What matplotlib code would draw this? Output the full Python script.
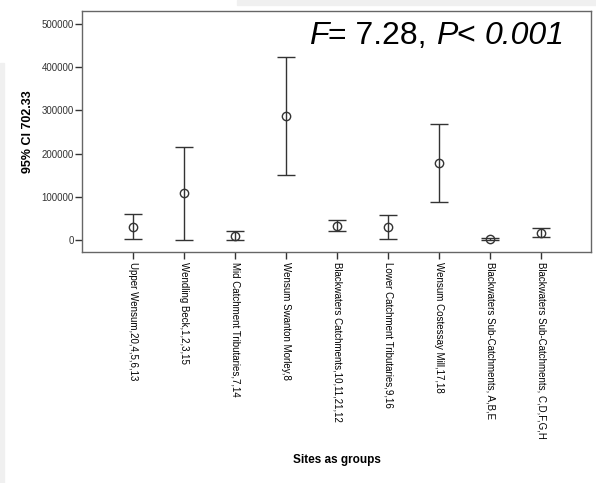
import matplotlib.pyplot as plt
from matplotlib.patches import Rectangle
from matplotlib.offsetbox import TextArea, HPacker, AnchoredOffsetbox

# Group names and 95% CI summary.
groups = ['Upper Wensum,20,4,5,6,13', 'Wendling Beck,1,2,3,15',
          'Mid Catchment Tributaries,7,14', 'Wensum Swanton Morley,8',
          'Blackwaters Catchments,10,11,21,12', 'Lower Catchment Tributaries,9,16',
          'Wensum Costessay Mill,17,18', 'Blackwaters Sub-Catchments, A,B,E',
          'Blackwaters Sub-Catchments, C,D,F,G,H']
means = [30700, 107800, 10000, 286400, 33000, 30700, 177800, 2300, 16900]
upper = [59300, 215500, 20000, 422600, 46900, 57700, 267900, 4600, 27000]
lower = [2300, 0, 700, 149400, 20000, 3100, 87000, 0, 7700]
yticks = [0, 100000, 200000, 300000, 400000, 500000]

plt.rcParams['font.family'] = ['Liberation Sans', 'DejaVu Sans']

W, H = 596, 483
fig = plt.figure(figsize=(W / 100, H / 100), dpi=100)

# screenshot background strips
fig.patches.append(Rectangle((237 / W, 1 - 4.5 / H), 1, 4.5 / H,
                             transform=fig.transFigure, color='#f0f0f0', zorder=0))
fig.patches.append(Rectangle((0, 0), 3.5 / W, 1 - 63 / H,
                             transform=fig.transFigure, color='#f0f0f0', zorder=0))

ax = fig.add_axes([82 / W, 1 - 252 / H, (591 - 82) / W, (252 - 11) / H])

x = list(range(len(groups)))
err = [[m - l for m, l in zip(means, lower)], [u - m for m, u in zip(means, upper)]]
ax.errorbar(x, means, yerr=err, fmt='o', mfc='none', mec='#333333', ms=6,
            mew=1, ecolor='#333333', elinewidth=1, capsize=6.5, capthick=1)

ax.set_xlim(-1, 8.98)
ax.set_ylim(-27800, 530000)
ax.set_yticks(yticks)
ax.set_yticklabels([str(v) for v in yticks], fontsize=7, color='#333333')
ax.set_xticks(x)
ax.set_xticklabels(groups, rotation=270, fontsize=7, ha='center', va='top')
ax.tick_params(axis='both', direction='out', length=5, width=1, color='#333333')
ax.tick_params(axis='x', pad=2)
ax.tick_params(axis='y', pad=1)
for s in ax.spines.values():
    s.set_color('#666666')
    s.set_linewidth(1)

fig.text(28 / W, 1 - 132 / H, '95% CI 702.33', rotation=90, fontsize=9,
         fontweight='bold', ha='center', va='center')
fig.text(337 / W, 1 - 460 / H, 'Sites as groups', fontsize=8.5,
         fontweight='bold', ha='center', va='center')

# F / P statistic, with the italic parts as separate pieces
pieces = [('F', 'italic'), ('= 7.28, ', 'normal'), ('P', 'italic'),
          ('< ', 'normal'), ('0.001', 'italic')]
areas = [TextArea(t, textprops=dict(fontsize=23, style=st, color='black'))
         for t, st in pieces]
pack = HPacker(children=areas, align='baseline', pad=0, sep=0)
box = AnchoredOffsetbox(loc='upper left', child=pack, pad=0, frameon=False,
                        bbox_to_anchor=(309 / W, 1 - 21 / H),
                        bbox_transform=fig.transFigure, borderpad=0)
fig.add_artist(box)

plt.savefig('out.png', dpi=100)
